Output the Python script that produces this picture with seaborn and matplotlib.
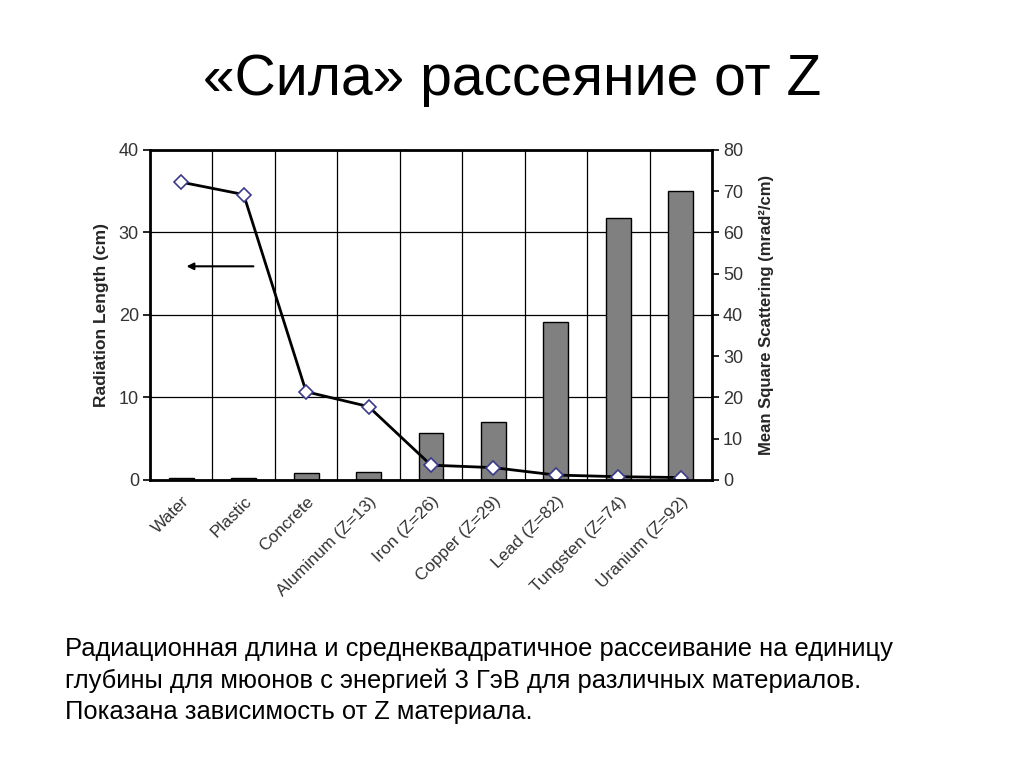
import matplotlib
matplotlib.use("Agg")
import matplotlib.pyplot as plt
import seaborn as sns
import numpy as np
from matplotlib.ticker import FixedLocator

# data
materials = ['Water', 'Plastic', 'Concrete', 'Aluminum (Z=13)', 'Iron (Z=26)',
             'Copper (Z=29)', 'Lead (Z=82)', 'Tungsten (Z=74)', 'Uranium (Z=92)']
radiation_length_cm = [36.1, 34.6, 10.7, 8.9, 1.8, 1.5, 0.6, 0.4, 0.3]
scattering_mrad2_cm = [0.6, 0.6, 1.8, 2.0, 11.5, 14.0, 38.4, 63.6, 70.0]

left_ticks = [0, 10, 20, 30, 40]
right_ticks = [0, 10, 20, 30, 40, 50, 60, 70, 80]

title = '«Сила» рассеяние от Z'
caption = ('Радиационная длина и среднеквадратичное рассеивание на единицу\n'
           'глубины для мюонов с энергией 3 ГэВ для различных материалов.\n'
           'Показана зависимость от Z материала.')

sns.set_theme(style='white')
plt.rcParams['font.family'] = ['Liberation Sans', 'DejaVu Sans']

fig = plt.figure(figsize=(10.24, 7.68), dpi=100)
ax = fig.add_axes([0.1465, 0.375, 0.5488, 0.4297])
ax2 = ax.twinx()   # bars, right scale
ax3 = ax.twinx()   # line, left scale
ax.set_zorder(0)
ax2.set_zorder(1)
ax3.set_zorder(2)
for a in (ax2, ax3):
    a.patch.set_visible(False)
ax.patch.set_facecolor('white')

# bars
sns.barplot(x=materials, y=scattering_mrad2_cm, ax=ax2, color='#808080',
            edgecolor='black', linewidth=1, width=0.4, saturation=1)

# line with diamond markers
sns.pointplot(x=materials, y=radiation_length_cm, ax=ax3, color='black',
              markers='D', linestyles='-', markersize=7,
              markerfacecolor='white', markeredgecolor='#3a3a8c',
              markeredgewidth=1.2, linewidth=2)

ax.set_ylim(0, 40)
ax3.set_ylim(0, 40)
ax2.set_ylim(0, 80)
ax.set_xlim(-0.5, len(materials) - 0.5)

# grid on the bottom axes
ax.set_yticks(left_ticks)
ax.yaxis.grid(True, color='black', linewidth=0.9)
ax.xaxis.set_major_locator(FixedLocator(np.arange(len(materials))))
ax.xaxis.set_minor_locator(FixedLocator(np.arange(-0.5, len(materials), 1)))
ax.xaxis.grid(True, which='minor', color='black', linewidth=0.9)
ax.xaxis.grid(False, which='major')
ax.set_xticklabels(materials, rotation=45, ha='right', rotation_mode='anchor',
                   fontsize=12.4, color='#333333')
ax.tick_params(axis='x', which='major', length=0, pad=10)
ax.tick_params(axis='x', which='minor', length=5, width=1.2, color='black',
               direction='out')
ax.tick_params(axis='y', length=5, width=1.2, color='black', direction='out',
               labelsize=13, labelcolor='#333333', left=True, pad=3)
ax.set_ylabel('Radiation Length (cm)', fontsize=12.5, fontweight='bold',
              labelpad=7)

ax2.set_yticks(right_ticks)
ax2.tick_params(axis='y', length=5, width=1.2, color='black', direction='out',
                labelsize=13, labelcolor='#333333', right=True, pad=3)
ax2.set_ylabel('Mean Square Scattering (mrad²/cm)', fontsize=12,
               fontweight='bold', labelpad=11)
ax2.grid(False)
ax3.grid(False)
ax3.yaxis.set_visible(False)
ax3.xaxis.set_visible(False)
ax2.set_xlabel('')

for a in (ax, ax2):
    for s in a.spines.values():
        s.set_visible(False)
for s in ax3.spines.values():
    s.set_visible(True)
    s.set_color('black')
    s.set_linewidth(2)

# arrow pointing to the left axis
ax3.annotate('', xy=(0.04, 25.9), xytext=(1.2, 25.9),
             arrowprops=dict(arrowstyle='-|>', color='black', lw=1.5,
                             mutation_scale=10))

fig.text(0.5, 0.896, title, ha='center', va='center', fontsize=41,
         color='black')
fig.text(0.0635, 0.170, caption, ha='left', va='top', fontsize=18.4,
         linespacing=1.37, color='black')

fig.savefig('out.png', dpi=100)
